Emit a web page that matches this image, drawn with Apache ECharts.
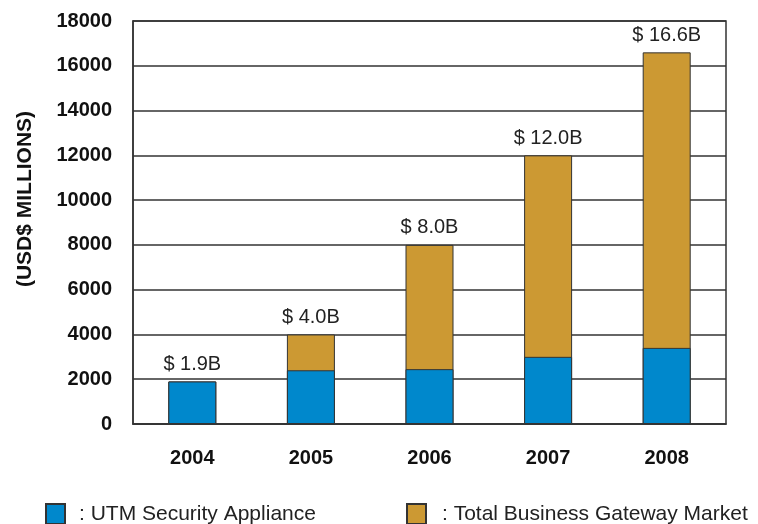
<!DOCTYPE html>
<html>
<head>
<meta charset="utf-8">
<script src="https://cdn.jsdelivr.net/npm/echarts@6/dist/echarts.min.js"></script>
<style>html,body{margin:0;padding:0;background:#fff}#c{width:758px;height:524px}</style>
</head>
<body>
<div id="c"></div>
<script>
const years = ['2004', '2005', '2006', '2007', '2008'];
const utmValues = [1900, 2400, 2450, 3000, 3400];
const totalValues = [1900, 4000, 8000, 12000, 16600];
const totalLabels = ['$ 1.9B', '$ 4.0B', '$ 8.0B', '$ 12.0B', '$ 16.6B'];
const seriesNames = ['UTM Security Appliance', 'Total Business Gateway Market'];
const yTitle = '(USD$ MILLIONS)';

const FONT = '"Liberation Sans", Arial, sans-serif';
const chart = echarts.init(document.getElementById('c'));
chart.setOption({
  animation: false,
  backgroundColor: '#fff',
  grid: { left: 133, right: 32, top: 21, bottom: 100, show: true, borderColor: '#333', borderWidth: 1.5, backgroundColor: 'transparent' },
  graphic: [{
    type: 'text', x: 25, y: 199, rotation: Math.PI / 2,
    style: { text: yTitle, fontFamily: FONT, fontSize: 21, fontWeight: 'bold', fill: '#111',
      textAlign: 'center', textVerticalAlign: 'middle' }
  }],
  legend: [
    { data: [seriesNames[0]], left: 45, top: 503, padding: 0, itemWidth: 19, itemHeight: 20, icon: 'rect',
      formatter: n => ': ' + n, textStyle: { fontFamily: FONT, fontSize: 21, color: '#222', padding: [0, 0, 0, 9] } },
    { data: [seriesNames[1]], left: 406, top: 503, padding: 0, itemWidth: 19, itemHeight: 20, icon: 'rect',
      formatter: n => ': ' + n, textStyle: { fontFamily: FONT, fontSize: 21, color: '#222', padding: [0, 0, 0, 11] } }
  ],
  xAxis: {
    type: 'category', data: years,
    axisLine: { lineStyle: { color: '#333', width: 1.5 } },
    axisTick: { show: false },
    axisLabel: { fontFamily: FONT, fontSize: 20, fontWeight: 'bold', color: '#111', margin: 24 }
  },
  yAxis: {
    type: 'value', min: 0, max: 18000, interval: 2000,
    axisLine: { show: true, lineStyle: { color: '#333', width: 1.5 } },
    axisTick: { show: false },
    axisLabel: { fontFamily: FONT, fontSize: 20, fontWeight: 'bold', color: '#111', margin: 21,
      formatter: v => String(v) },
    splitLine: { lineStyle: { color: '#333', width: 1.5 } }
  },
  series: [
    { name: seriesNames[1], type: 'bar', data: totalValues, barWidth: 48,
      itemStyle: { color: '#cc9933', borderColor: '#333', borderWidth: 1 },
      label: { show: true, position: 'top', distance: 7, formatter: p => totalLabels[p.dataIndex],
        fontFamily: FONT, fontSize: 20, color: '#222' } },
    { name: seriesNames[0], type: 'bar', data: utmValues, barWidth: 48, barGap: '-100%',
      itemStyle: { color: '#0088cc', borderColor: '#333', borderWidth: 1 } }
  ]
});
</script>
</body>
</html>
